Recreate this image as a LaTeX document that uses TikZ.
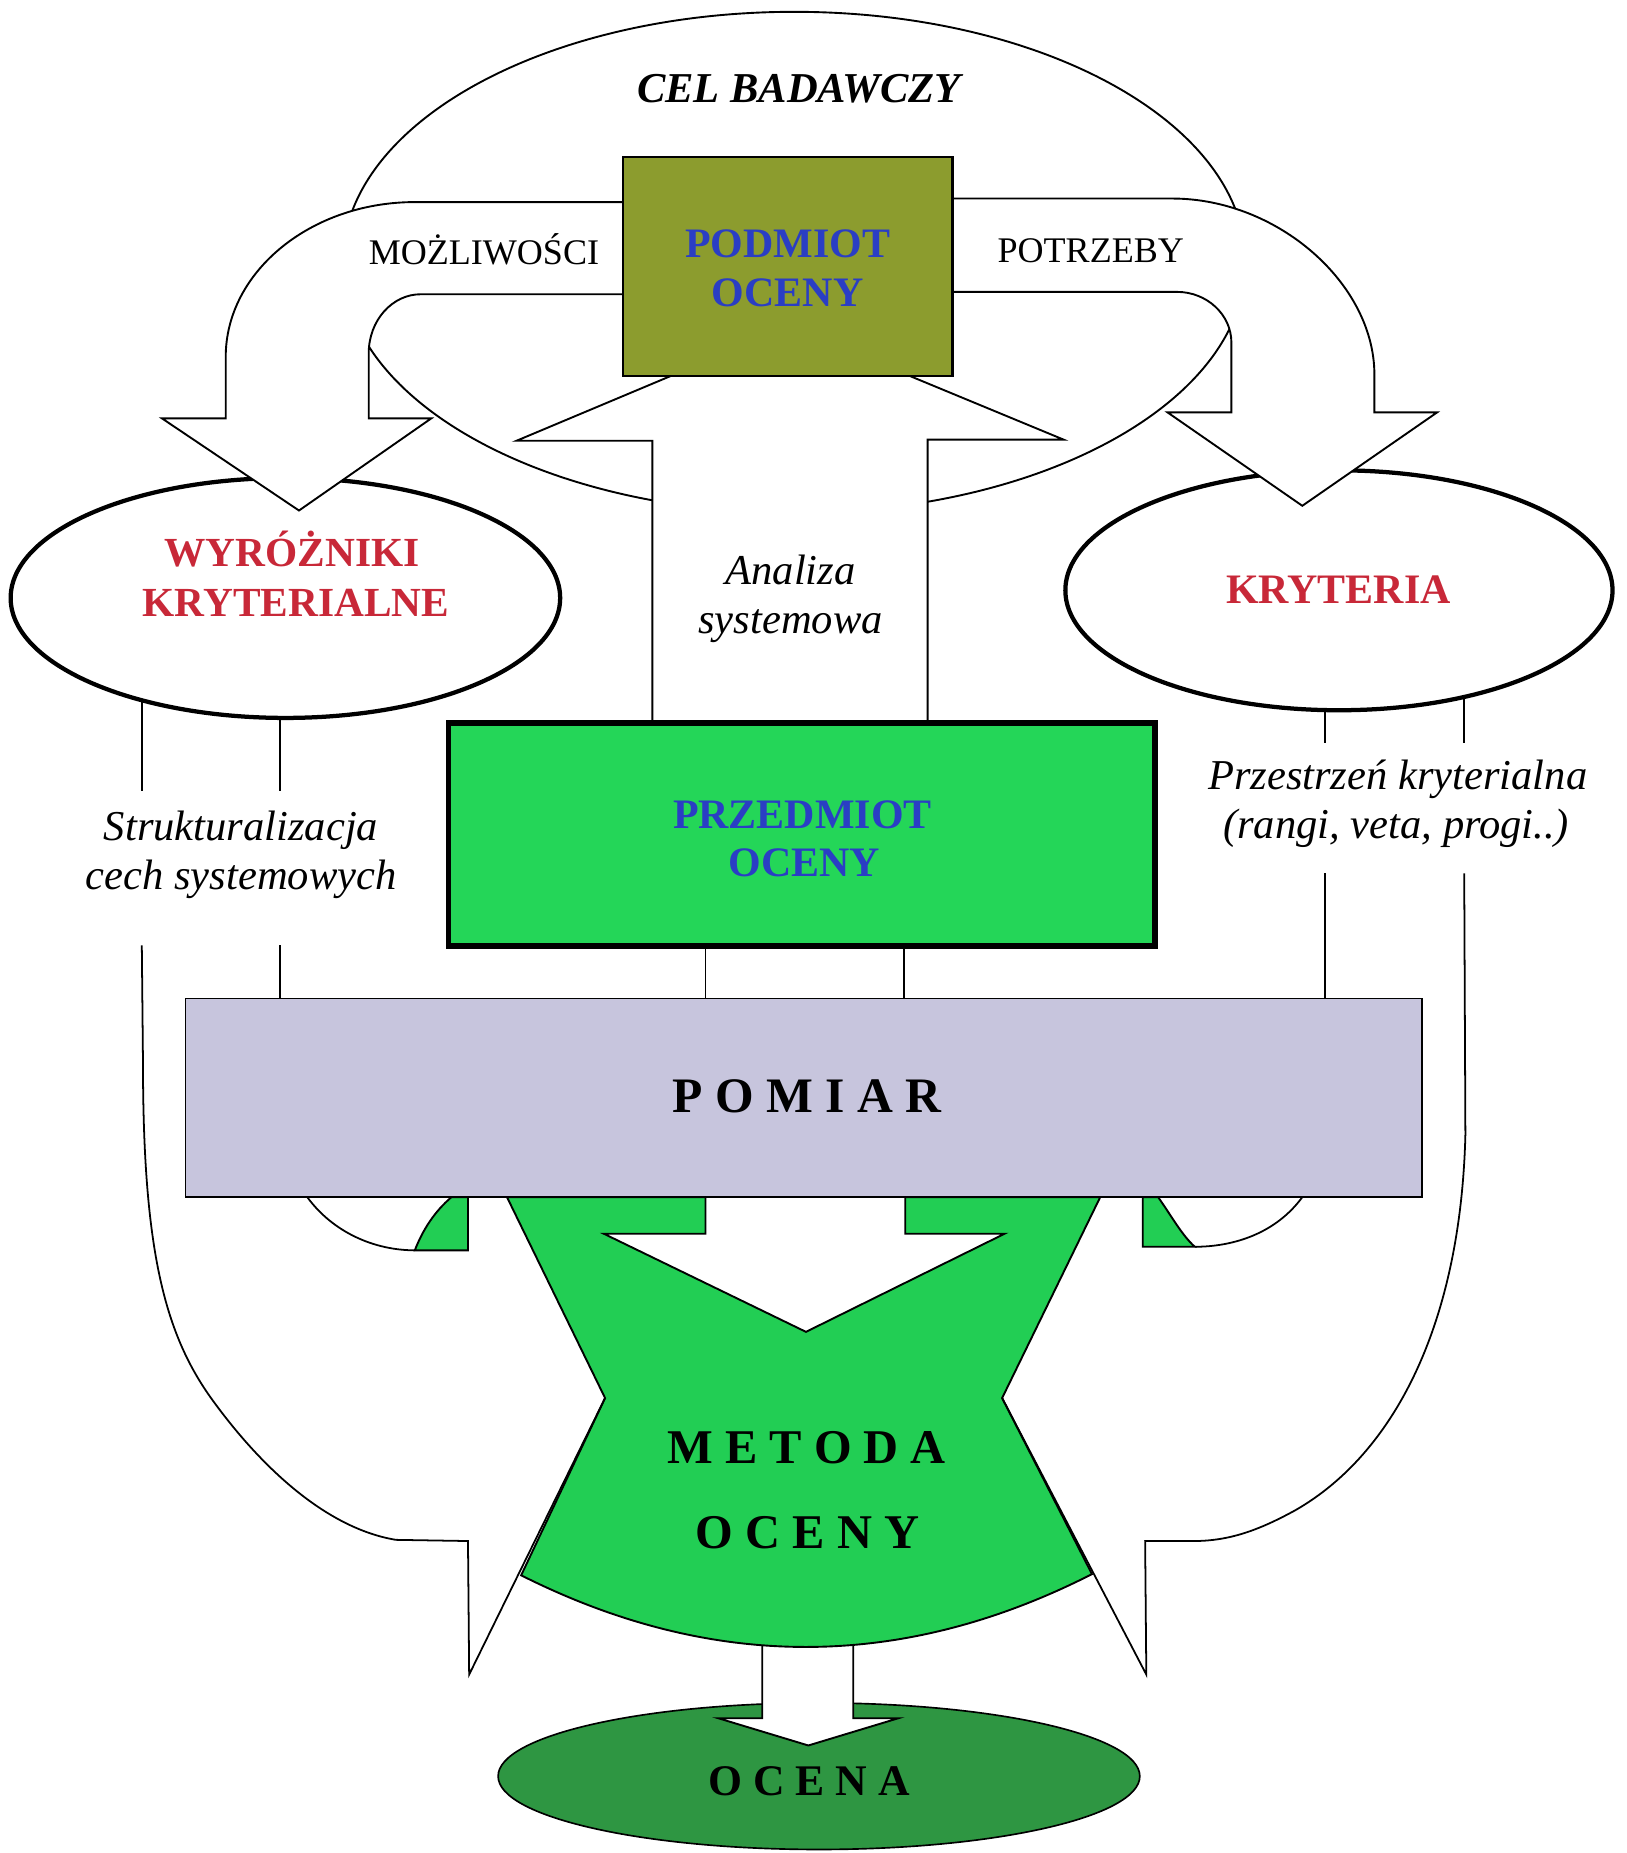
\documentclass[tikz,border=0pt]{standalone}
\usepackage{fontspec}
\setmainfont{Liberation Serif}
\usetikzlibrary{shapes.geometric}
\definecolor{podfill}{RGB}{140,156,46}
\definecolor{przfill}{RGB}{36,214,88}
\definecolor{metfill}{RGB}{34,206,84}
\definecolor{ocfill}{RGB}{46,150,66}
\definecolor{pomfill}{RGB}{199,197,221}
\definecolor{txtblue}{RGB}{42,62,196}
\definecolor{txtred}{RGB}{200,40,56}
\tikzset{
  wfill/.style={fill=white, draw=black, line width=1.6pt, line join=miter},
  bandline/.style={draw=black, line width=1.5pt},
  thickell/.style={ellipse, draw=black, line width=3.6pt, fill=white, inner sep=0pt},
  ctxt/.style={anchor=base, inner sep=0pt},
  fital/.style={font=\fontsize{36}{40}\selectfont\itshape},
  fblue/.style={font=\fontsize{35.5}{40}\selectfont\bfseries, text=txtblue},
  fred/.style={font=\fontsize{35}{40}\selectfont\bfseries, text=txtred},
  freg/.style={font=\fontsize{30.5}{36}\selectfont},
  fspaced/.style={font=\fontsize{41}{46}\selectfont\bfseries},
}
\begin{document}
\begin{tikzpicture}[x=1pt,y=-1pt]
\useasboundingbox[fill=white] (0,0) rectangle (1376,1568);

% ---------- vertical band lines below the ellipses ----------
\draw[bandline] (120,560) -- (120,669);
\draw[bandline] (237,560) -- (237,669);
\draw[bandline] (1121,560) -- (1121,629);
\draw[bandline] (1239,560) -- (1239,629);
\draw[bandline] (237,800) -- (237,850);
\draw[bandline] (1121,739) -- (1121,850);
\draw[bandline] (597,798) -- (597,850);
\draw[bandline] (765,798) -- (765,850);

% ---------- big CEL ellipse ----------
\node[ellipse, draw=black, line width=1.6pt, fill=white, inner sep=0pt,
      minimum width=764pt, minimum height=424pt] (cel) at (672,222) {};

% ---------- side ellipses ----------
\node[thickell, minimum width=465pt, minimum height=203pt] (wyr) at (241.5,506) {};
\node[thickell, minimum width=463pt, minimum height=203pt] (kry) at (1133,499.5) {};

% ---------- left curved arrow (MOZLIWOSCI) ----------
\filldraw[wfill] (527,171) -- (351,171) .. controls (263,171) and (191,230) .. (191,302)
  -- (191,354) -- (137,354) -- (253,432) -- (365,354) -- (312,354) -- (312,299)
  .. controls (312,271) and (332,249) .. (356,249) -- (527,249);

% ---------- right curved arrow (POTRZEBY) ----------
\filldraw[wfill] (806,168) -- (992,168) .. controls (1081,168) and (1163,240) .. (1163,317)
  -- (1163,349) -- (1216,349) -- (1102,428) -- (988,349) -- (1042,349) -- (1042,290)
  .. controls (1042,266) and (1021,247) .. (996,247) -- (806,247);

% ---------- central up arrow ----------
\filldraw[wfill] (552,612) -- (552,373) -- (437,373) -- (668,276) -- (900,372) -- (785,372) -- (785,612);

% ---------- PODMIOT box ----------
\node[draw=black, line width=2pt, fill=podfill, inner sep=0pt,
      minimum width=279pt, minimum height=185pt] (podmiot) at (666.5,225.5) {};

% ---------- PRZEDMIOT box ----------
\node[draw=black, line width=5pt, fill=przfill, inner sep=0pt,
      minimum width=598pt, minimum height=189pt] (przedmiot) at (678.5,706) {};

% ---------- OCENA ellipse and arrow ----------
\node[ellipse, draw=black, line width=1.4pt, fill=ocfill, inner sep=0pt,
      minimum width=543pt, minimum height=124pt] (ocena) at (693,1503) {};
\filldraw[wfill] (645,1380) -- (645,1454) -- (608,1454) -- (684,1477) -- (760,1454) -- (722,1454) -- (722,1380);

% ---------- green METODA shape ----------
\filldraw[fill=metfill, draw=black, line width=1.6pt, line join=miter]
  (429,1013) -- (512,1183) -- (441,1333) .. controls (602,1414) and (763,1414) .. (924,1332)
  -- (848,1183) -- (931,1013) -- cycle;
\filldraw[fill=metfill, draw=black, line width=1.6pt]
  (382,1013) -- (396,1013) -- (396,1058) -- (351,1058) .. controls (358,1040) and (368,1025) .. (382,1013);
\filldraw[fill=metfill, draw=black, line width=1.6pt]
  (967,1013) -- (980,1013) .. controls (992,1030) and (1000,1045) .. (1011,1055) -- (967,1055) -- cycle;

% inner curves of the lower bands
\draw[bandline] (260,1013) .. controls (282,1043) and (317,1058) .. (351,1058);
\draw[bandline] (1102,1013) .. controls (1080,1043) and (1045,1055) .. (1011,1055);

% outer curves of the lower bands with their arrow heads
\draw[bandline, line join=miter] (120,800) -- (121,900) .. controls (121,1060) and (140,1130) .. (180,1185)
  .. controls (220,1240) and (275,1293) .. (335,1303) -- (396,1304) -- (397,1417) -- (512,1183);
\draw[bandline, line join=miter] (1239,739) -- (1240,960) .. controls (1236,1120) and (1180,1230) .. (1096,1278)
  .. controls (1065,1295) and (1040,1304) .. (1010,1304) -- (969,1304) -- (970,1417) -- (848,1183);

% ---------- white arrow from PRZEDMIOT into METODA ----------
\filldraw[wfill] (597,1010) -- (597,1044) -- (511,1044) -- (682,1127) -- (850,1044) -- (766,1044) -- (766,1010);

% ---------- POMIAR box ----------
\node[draw=black, line width=1.5pt, fill=pomfill, inner sep=0pt,
      minimum width=1046pt, minimum height=168pt] (pomiar) at (680,929) {};

% ---------- texts ----------
\node[ctxt, font=\fontsize{36}{40}\selectfont\bfseries\itshape] (celt) at (676,87) {CEL BADAWCZY};
\node[ctxt, freg] (mozl) at (409.5,223.5) {MOŻLIWOŚCI};
\node[ctxt, freg] (potrz) at (923,222) {POTRZEBY};
\node[ctxt, fblue] (pod1) at (666.5,217.5) {PODMIOT};
\node[ctxt, fblue] (pod2) at (666.5,259.5) {OCENY};
\node[ctxt, fred] (wyr1) at (247,479.5) {WYRÓŻNIKI};
\node[ctxt, fred] (wyr2) at (250.4,522) {KRYTERIALNE};
\node[ctxt, fred, font=\fontsize{35.5}{40}\selectfont\bfseries] (kryt) at (1132.5,510.5) {KRYTERIA};
\node[ctxt, fital] (an1) at (669,495) {Analiza};
\node[ctxt, fital] (an2) at (669,535.7) {systemowa};
\node[ctxt, fital] (str1) at (204,711) {Strukturalizacja};
\node[ctxt, fital] (str2) at (204,752.7) {cech systemowych};
\node[ctxt, fital] (prs1) at (1182.7,668.4) {Przestrzeń kryterialna};
\node[ctxt, fital] (prs2) at (1181.4,709.5) {(rangi, veta, progi..)};
\node[ctxt, fblue] (prz1) at (679,701) {PRZEDMIOT};
\node[ctxt, fblue] (prz2) at (680.5,742) {OCENY};
\node[ctxt, fspaced, font=\fontsize{42}{46}\selectfont\bfseries] (pomt) at (683,941.5) {P O M I A R};
\node[ctxt, fspaced] (met1) at (682.6,1238.3) {M E T O D A};
\node[ctxt, fspaced] (met2) at (683.4,1310.3) {O C E N Y};
\node[ctxt, font=\fontsize{37}{42}\selectfont\bfseries] (oct) at (684.7,1519) {O C E N A};
\end{tikzpicture}
\end{document}
